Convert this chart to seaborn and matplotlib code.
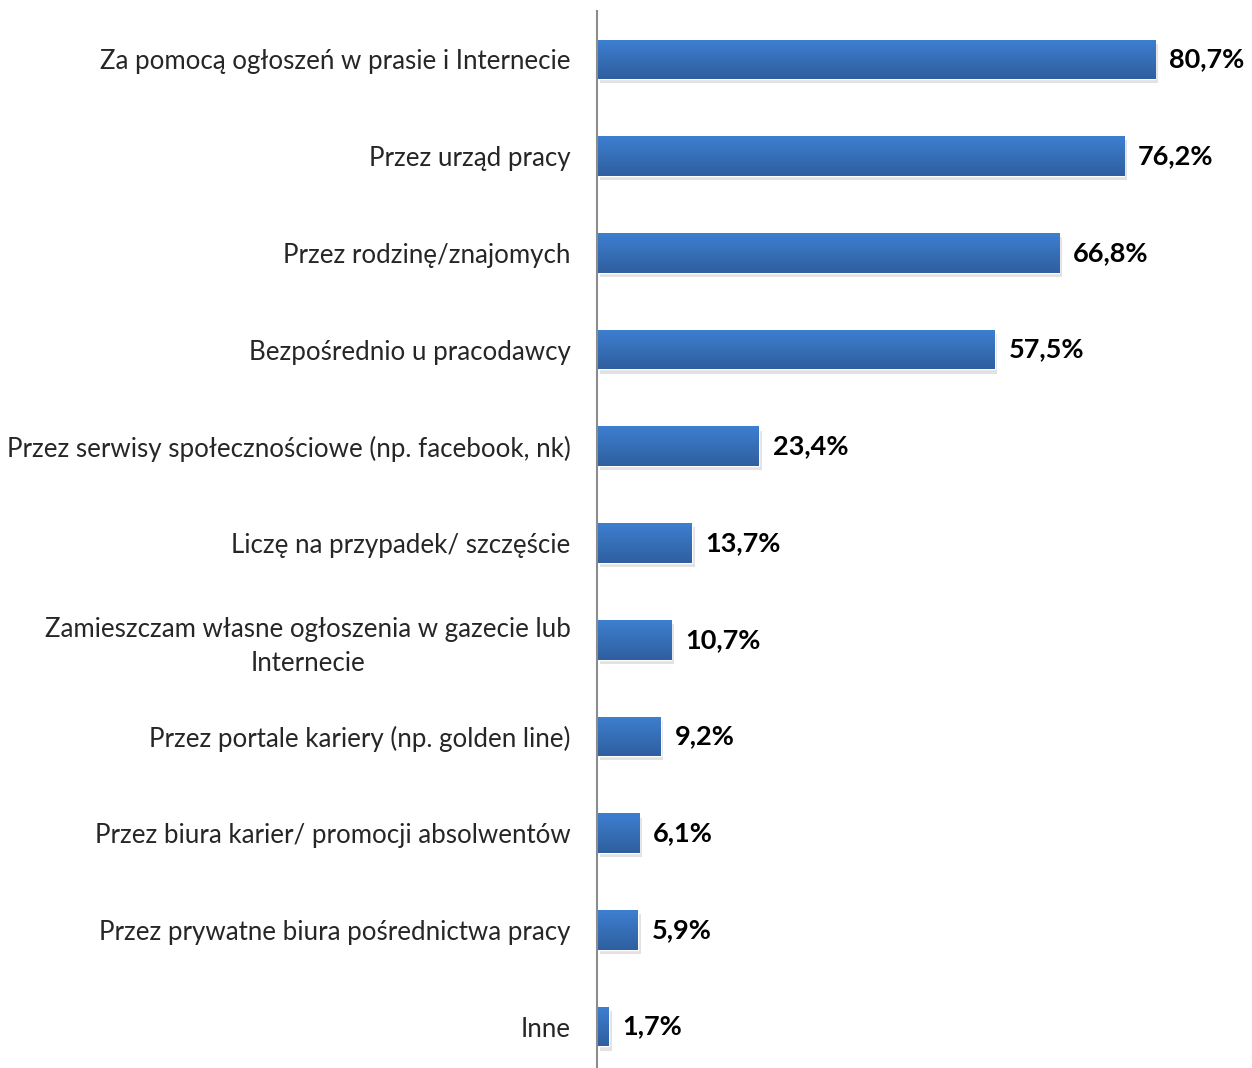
import numpy as np
import pandas as pd
import matplotlib
matplotlib.use('Agg')
import matplotlib.pyplot as plt
import matplotlib.patheffects as pe
from matplotlib.colors import LinearSegmentedColormap
import seaborn as sns

# dane z wykresu
kategorie = [
    'Za pomocą ogłoszeń w prasie i Internecie',
    'Przez urząd pracy',
    'Przez rodzinę/znajomych',
    'Bezpośrednio u pracodawcy',
    'Przez serwisy społecznościowe (np. facebook, nk)',
    'Liczę na przypadek/ szczęście',
    'Zamieszczam własne ogłoszenia w gazecie lub\nInternecie',
    'Przez portale kariery (np. golden line)',
    'Przez biura karier/ promocji absolwentów',
    'Przez prywatne biura pośrednictwa pracy',
    'Inne',
]
wartosci = [80.7, 76.2, 66.8, 57.5, 23.4, 13.7, 10.7, 9.2, 6.1, 5.9, 1.7]

df = pd.DataFrame({'kategoria': kategorie, 'procent': wartosci})

sns.set_style('white')
plt.rcParams['font.family'] = ['Lato', 'DejaVu Sans']

fig = plt.figure(figsize=(12.52, 10.68), dpi=100)
ax = fig.add_axes([597 / 1252, -7 / 1068, 1 - 597 / 1252, 1064 / 1068])

sns.barplot(data=df, x='procent', y='kategoria', color='#3a76c4',
            width=0.41, ax=ax, saturation=1)

ax.set_xlim(0, 94.7)
ax.set_ylim(10.5, -0.5)

# gradient i cien na slupkach
cmap = LinearSegmentedColormap.from_list('g', ['#3d7fd0', '#2f5f9f'])
grad = np.linspace(0, 1, 64).reshape(-1, 1)
for p in ax.patches:
    x0, y0 = p.get_x(), p.get_y()
    w, h = p.get_width(), p.get_height()
    p.set_path_effects([pe.SimplePatchShadow(offset=(2, -3), shadow_rgbFace='#b8b8b8', alpha=0.4),
                        pe.Normal()])
    im = ax.imshow(grad, cmap=cmap, aspect='auto', extent=(x0, x0 + w, y0 + h, y0),
                   zorder=p.get_zorder() + 0.1)
    im.set_clip_path(p)

for i, v in enumerate(wartosci):
    ax.text(v + 2.0, i, f'{v:.1f}%'.replace('.', ','), va='center', ha='left',
            fontsize=19.5, fontweight='bold', color='black')

ax.set_xlabel('')
ax.set_ylabel('')
ax.set_xticks([])
ax.tick_params(axis='y', length=0, pad=19, labelsize=18.6)
for lbl in ax.get_yticklabels():
    lbl.set_multialignment('center')
    lbl.set_linespacing(1.45)
for s in ['top', 'right', 'bottom']:
    ax.spines[s].set_visible(False)
ax.spines['left'].set_color('#8c8c8c')
ax.spines['left'].set_linewidth(1.5)

plt.savefig('out.png', dpi=100)
